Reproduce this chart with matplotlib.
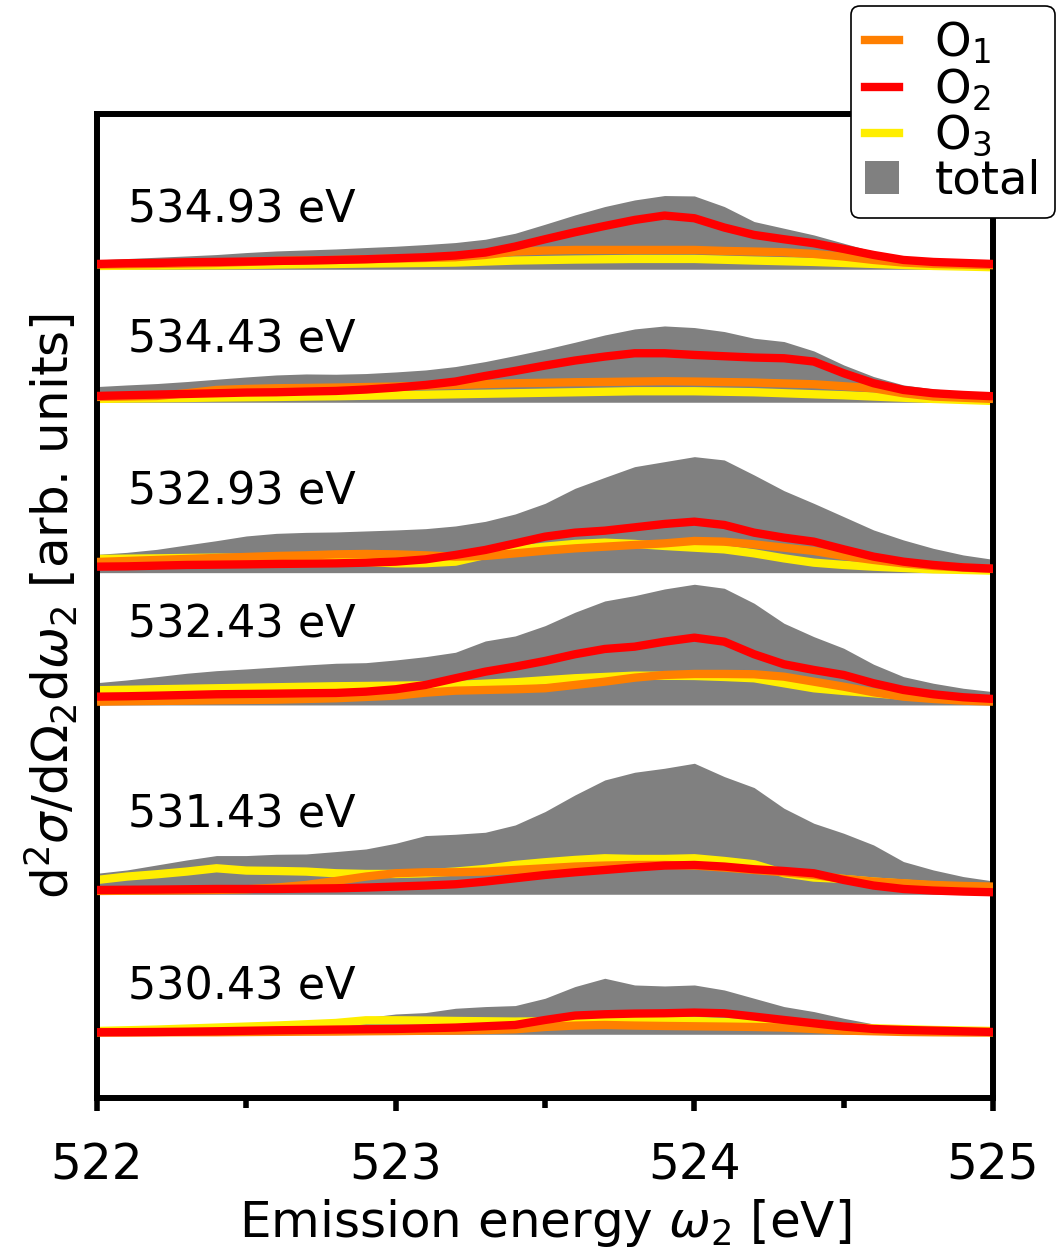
import matplotlib.pyplot as plt
from matplotlib.patches import Patch
from matplotlib.lines import Line2D
from matplotlib.ticker import MultipleLocator


# emission energy grid [eV]
energy = [522.0, 522.1, 522.2, 522.3, 522.4, 522.5, 522.6, 522.7, 522.8, 522.9,
          523.0, 523.1, 523.2, 523.3, 523.4, 523.5, 523.6, 523.7, 523.8, 523.9,
          524.0, 524.1, 524.2, 524.3, 524.4, 524.5, 524.6, 524.7, 524.8, 524.9,
          525.0]

# excitation energies, bottom to top
excitation = ["530.43 eV", "531.43 eV", "532.43 eV", "532.93 eV", "534.43 eV", "534.93 eV"]

# spectra (arb. units), one row per excitation energy, bottom to top
total = [
    [6, 6.1, 6.3, 6.6, 7, 7.5, 8, 9.3, 12.7, 16.7, 20.3, 21.7, 26, 27.7, 28.7, 36,
     47.7, 56, 49.3, 48.3, 49.3, 44.3, 36, 27.7, 22.7, 16, 10.3, 7.7, 6, 5.3, 4.3],
    [21, 24.3, 29.3, 34.3, 38.7, 38.7, 40, 40.3, 42.7, 45.3, 51, 58.7, 60, 62, 69.3, 82.7,
     99.3, 114.3, 122, 126, 131, 117.7, 106.7, 86, 71, 61, 49.3, 32.7, 24.3, 17.7, 13.3],
    [22.3, 25, 28.3, 31.7, 34.3, 36, 38, 40, 41.7, 42.3, 45, 48.3, 52.7, 64, 69, 79.3,
     92.7, 104, 109.3, 116, 120.7, 116.7, 101.7, 81.7, 68.3, 56.7, 40.7, 28.3, 21.7, 16.7, 13.3],
    [18.3, 20.3, 23.3, 27.7, 32, 36.7, 39.3, 40.3, 40.7, 41.7, 42.7, 44, 46.7, 51.3, 58.7, 69.3,
     84.3, 95.3, 106, 111, 116, 112.7, 97.7, 82, 69.3, 56, 42.7, 32.7, 24.3, 17.7, 13.3],
    [15.7, 17.3, 18.7, 20.7, 23, 25.3, 27.3, 28.3, 28, 28.7, 30.3, 32.3, 35.7, 40.7, 46.7, 53,
     60, 67.3, 73.3, 76.3, 74.7, 70.7, 64, 60.7, 51.3, 37.3, 25.7, 17.3, 13.3, 10.7, 9],
    [9.3, 10.7, 12, 13.3, 14.7, 16.7, 18.3, 19.3, 20.3, 21.7, 23, 24.7, 26.7, 30, 36, 45,
     54.3, 62.7, 69.3, 73.7, 73.3, 62.7, 47.7, 41, 34.3, 26, 17.7, 12, 9.3, 8.3, 7.3],
]

o1 = [
    [1.7, 1.8, 1.9, 2, 2, 2.2, 2.4, 2.6, 2.7, 3, 3.2, 3.5, 3.7, 4.3, 5, 7.3,
     8.7, 9.3, 8.7, 8.3, 8, 7.7, 7.3, 6.7, 5.3, 3.7, 3, 2.3, 2, 1.8, 1.7],
    [3.3, 3.5, 3.7, 4, 4.3, 5, 6.7, 9.3, 13.3, 17.7, 21, 22, 22, 22.7, 24.3, 26,
     27.7, 28.7, 29.3, 29.3, 28.7, 26.7, 24.3, 22, 19.3, 15.3, 12.7, 11, 9.3, 8.3, 7.7],
    [3.3, 3.7, 4, 4.3, 4.7, 5, 5.3, 6, 6.7, 8, 9.3, 12.3, 14.3, 15, 15.7, 16.7,
     20, 23.3, 27.3, 30, 31, 31, 30.7, 28.3, 23.3, 18.3, 12.7, 8.3, 6, 4.3, 3.3],
    [10.7, 11.7, 12.7, 13.7, 14.7, 15.7, 16.7, 17.3, 18.3, 18.7, 18.3, 17.3, 16, 16.7, 19.3, 22,
     24.3, 26, 27.7, 29.3, 31.7, 31, 28.3, 25, 21.7, 16.7, 12.7, 9.3, 6.7, 5, 3.7],
    [5.3, 5.8, 6.3, 9, 12.3, 13.3, 14, 14.3, 14.7, 15.2, 15.7, 16.5, 17.3, 18.2, 19, 19.5,
     20, 20.3, 20.7, 21, 20.7, 20.2, 19.7, 18.8, 18, 16, 14, 9, 5.7, 4.5, 3.3],
    [4.7, 5, 5.3, 5.8, 6.3, 7.3, 8.3, 8.8, 9.3, 10, 10.7, 11.3, 12, 14.3, 17.7, 18.7,
     19.3, 19.3, 19.3, 19.3, 19.3, 18.3, 17.7, 17, 15.3, 12.7, 9.3, 6.7, 5.3, 4.7, 4],
]

o2 = [
    [2, 2.1, 2.3, 2.6, 3, 3.5, 4, 4.3, 4.7, 5, 5.3, 6, 6.7, 8, 9.3, 14.3,
     18.7, 20, 20.7, 21, 21.7, 21, 17.7, 14.3, 11, 7.7, 5.3, 4.3, 3.7, 3, 2.3],
    [4.3, 4.5, 4.7, 5, 5.3, 5.3, 5.3, 5.7, 6, 6.7, 7.7, 8.7, 10, 12.7, 16, 19.3,
     22, 24.3, 26.7, 28.7, 29.3, 27.7, 25, 23.3, 21, 14.3, 8.7, 5.3, 3.7, 2.7, 2],
    [8.3, 8.7, 9.3, 10, 10.7, 11, 11.3, 11.7, 12, 13.3, 15.7, 20, 26.7, 33.3, 38.3, 44,
     50.7, 56, 58.3, 63.3, 67.3, 63.3, 50.7, 40.7, 35, 30, 21.7, 15, 10.7, 7.7, 6],
    [6, 6.3, 7, 7.7, 8, 8.3, 8.7, 9, 9.3, 10, 11, 13.3, 17.7, 22.7, 29.3, 36,
     40, 42, 45.3, 48.7, 51, 47.7, 40, 35, 31, 23.3, 16, 11, 7.7, 5.3, 4],
    [6.3, 7, 7.7, 8.3, 9, 9.7, 10, 10.7, 11.3, 12.7, 14.7, 17.3, 20.7, 26.3, 31.3, 36.7,
     41.7, 45.7, 49, 49, 47.3, 46, 44.7, 44, 40.7, 29, 19, 12.3, 9, 7.3, 6],
    [5.3, 6, 6.3, 7, 7.3, 7.7, 8.3, 8.7, 9.3, 10, 11, 12, 13.7, 16.7, 22.7, 30,
     37, 43.3, 49.3, 53.7, 51, 41.7, 34.3, 30, 26, 20.3, 14.3, 9.3, 7.3, 6.3, 5.3],
]

o3 = [
    [3.3, 4, 4.7, 5.7, 6.7, 7.7, 8.7, 10, 11.3, 14, 14, 13.7, 13.3, 13, 12.7, 13,
     13.3, 13.5, 13.7, 13.5, 13.3, 12.2, 11, 9.7, 8.3, 7.2, 6, 5.2, 4.3, 3.8, 3.3],
    [14.3, 17.7, 20, 22.7, 26, 23.7, 23.3, 22.7, 21, 20.3, 20.3, 21, 22.7, 25.3, 29.3, 32,
     34.3, 36, 35.3, 35.3, 36, 33.3, 30, 21, 16.7, 15.3, 12.7, 10.7, 8.7, 7.3, 6],
    [14.7, 15.2, 15.7, 16.2, 16.7, 17.2, 17.7, 18.2, 18.7, 19, 19.3, 19.7, 20, 21.3, 22.7, 24.7,
     26.7, 28, 29.3, 29.2, 29, 28, 26.7, 21.7, 16.7, 14, 11.7, 9.3, 7.3, 6, 4.7],
    [13.7, 14, 14.3, 14.7, 15, 14.7, 14.3, 13.2, 12, 10.7, 9.3, 9.5, 11, 17.7, 22.7, 26,
     28.7, 30, 28.7, 26.7, 25, 23.3, 19.3, 14.3, 10, 7.7, 6, 4.7, 3.3, 2.7, 2],
    [3.3, 3.7, 4, 4.3, 4.7, 5, 5.3, 5.7, 6, 6.5, 7, 7.5, 8, 8.5, 9, 9.5,
     10, 10.5, 11, 11, 11, 10.5, 10, 9, 8, 7, 5.7, 4.5, 3.3, 2.3, 1.3],
    [3.3, 3.5, 3.7, 3.9, 4, 4.3, 4.7, 5, 5.3, 5.7, 6, 6.3, 6.7, 7.7, 8.7, 9.2,
     9.7, 10, 10.3, 10.3, 10.3, 9.5, 8.7, 8, 7.3, 6.3, 5.3, 4.3, 3.3, 2.7, 2],
]

# vertical stacking of the spectra and of their labels
offsets = [63.7, 203.7, 393, 525.3, 695.7, 828.7]
label_y = [98, 270, 460, 593, 745, 875]

c_o1 = "#ff7f00"
c_o2 = "#ff0000"
c_o3 = "#ffee00"
c_tot = "#808080"

plt.rcParams["font.family"] = "DejaVu Sans"
plt.rcParams["font.size"] = 32

fig = plt.figure(figsize=(10.57, 12.59), dpi=100)
ax = fig.add_axes([0.0918, 0.1279, 0.8477, 0.7816])

line_kw = dict(lw=6, solid_joinstyle="round", solid_capstyle="butt")
for i in range(len(excitation)):
    base = offsets[i]
    ax.fill_between(energy, base, [base + v for v in total[i]], color=c_tot, lw=0, zorder=1)
    ax.plot(energy, [base + v for v in o3[i]], color=c_o3, zorder=2, **line_kw)
    ax.plot(energy, [base + v for v in o1[i]], color=c_o1, zorder=3, **line_kw)
    ax.plot(energy, [base + v for v in o2[i]], color=c_o2, zorder=4, **line_kw)
    ax.text(522.104, label_y[i], excitation[i], va="baseline", ha="left")

ax.set_xlim(522, 525)
ax.set_ylim(0, 984)
ax.set_yticks([])
ax.xaxis.set_major_locator(MultipleLocator(1))
ax.xaxis.set_minor_locator(MultipleLocator(0.5))
ax.tick_params(axis="x", which="major", length=9, width=4, pad=22, labelsize=35)
ax.tick_params(axis="x", which="minor", length=7, width=4)
for s in ax.spines.values():
    s.set_linewidth(4.3)

ax.set_xlabel(r"Emission energy $\omega_2$ [eV]", fontsize=36, labelpad=6)
ax.set_ylabel(r"d$^2\sigma$/d$\Omega_2$d$\omega_2$ [arb. units]", fontsize=36, labelpad=12)

handles = [
    Line2D([], [], color=c_o1, lw=6),
    Line2D([], [], color=c_o2, lw=6),
    Line2D([], [], color=c_o3, lw=6),
    Patch(facecolor=c_tot, edgecolor="none"),
]
leg = fig.legend(handles, [r"O$_1$", r"O$_2$", r"O$_3$", "total"],
                 loc="upper right", bbox_to_anchor=(1.0, 0.997), borderaxespad=0.05,
                 fontsize=33.5, handlelength=0.75, handletextpad=0.75, labelspacing=0.0,
                 borderpad=0.3, framealpha=1, edgecolor="black", fancybox=True)
leg.get_frame().set_linewidth(1.2)
leg.set_zorder(10)

fig.savefig("out.png", dpi=100)
